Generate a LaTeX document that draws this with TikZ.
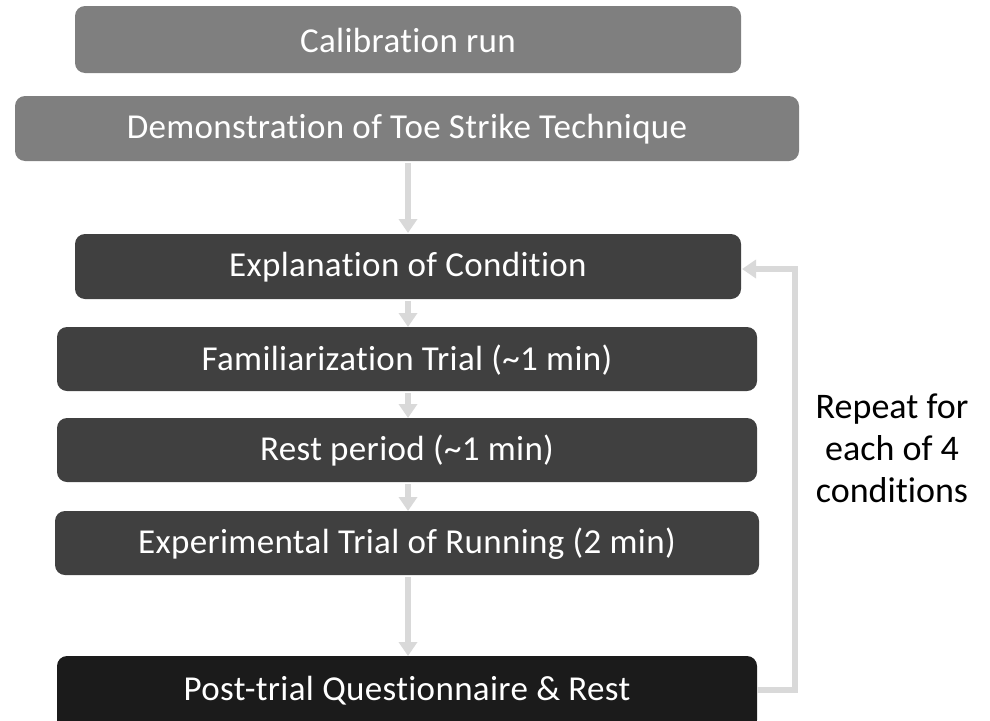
\documentclass[tikz,border=0pt]{standalone}
\usepackage{fontspec}
\setmainfont{Carlito}[Ligatures={NoCommon}]
\newfontfamily\boxfont{Carlito}[Ligatures={NoCommon},LetterSpace=1]
\usetikzlibrary{arrows.meta}
\definecolor{midgray}{HTML}{7F7F7F}
\definecolor{darkgray}{HTML}{404040}
\definecolor{blackish}{HTML}{1B1B1B}
\definecolor{arrowgray}{HTML}{D9D9D9}
\begin{document}
\begin{tikzpicture}[x=1pt,y=-1pt,
  stepbox/.style={rounded corners=10pt, inner sep=0pt, text=white,
    font=\boxfont\fontsize{35}{42}\selectfont},
  flowarrow/.style={draw=arrowgray, line width=6pt,
    -{Triangle[width=18pt,length=14pt]}},
  looparrow/.style={draw=arrowgray, line width=6pt,
    -{Triangle[width=18pt,length=14pt]}}]
\useasboundingbox (0,0) rectangle (990,720);
% boxes
\fill[midgray, rounded corners=10pt] (75,6) rectangle (741,73);
\node[stepbox] (b1) at (408,40.5) {Calibration run};
\fill[midgray, rounded corners=10pt] (15,96) rectangle (799,161);
\node[stepbox] (b2) at (407,129.5) {Demonstration of Toe Strike Technique};
\fill[darkgray, rounded corners=10pt] (75,234) rectangle (741,299);
\node[stepbox] (b3) at (408,267.5) {Explanation of Condition};
\fill[darkgray, rounded corners=10pt] (57,327) rectangle (757,391);
\node[stepbox] (b4) at (407,360) {Familiarization Trial (\textasciitilde1 min)};
\fill[darkgray, rounded corners=10pt] (57,418) rectangle (757,482);
\node[stepbox] (b5) at (407,451) {Rest period (\textasciitilde1 min)};
\fill[darkgray, rounded corners=10pt] (55,511) rectangle (759,575);
\node[stepbox] (b6) at (407,544) {Experimental Trial of Running (2 min)};
\fill[blackish, rounded corners=10pt] (57,656) rectangle (757,730);
\node[stepbox] (b7) at (407,691) {Post-trial Questionnaire \& Rest};
% named anchor coordinates
\coordinate (a1s) at (408,163);
\coordinate (a1e) at (408,233);
\coordinate (a2s) at (408,301);
\coordinate (a2e) at (408,327);
\coordinate (a3s) at (408,393);
\coordinate (a3e) at (408,418);
\coordinate (a4s) at (408,484);
\coordinate (a4e) at (408,511);
\coordinate (a5s) at (408,577);
\coordinate (a5e) at (408,656);
\coordinate (ls) at (757,690);
\coordinate (lc1) at (795,690);
\coordinate (lc2) at (795,269);
\coordinate (le) at (742,269);
% arrows
\draw[flowarrow] (a1s) -- (a1e);
\draw[flowarrow] (a2s) -- (a2e);
\draw[flowarrow] (a3s) -- (a3e);
\draw[flowarrow] (a4s) -- (a4e);
\draw[flowarrow] (a5s) -- (a5e);
\draw[looparrow] (ls) -- (lc1) -- (lc2) -- (le);
% side label
\node[align=center, font=\fontsize{36}{42}\selectfont] (rep) at (892,448)
  {Repeat for\\each of 4\\conditions};
\end{tikzpicture}
\end{document}
